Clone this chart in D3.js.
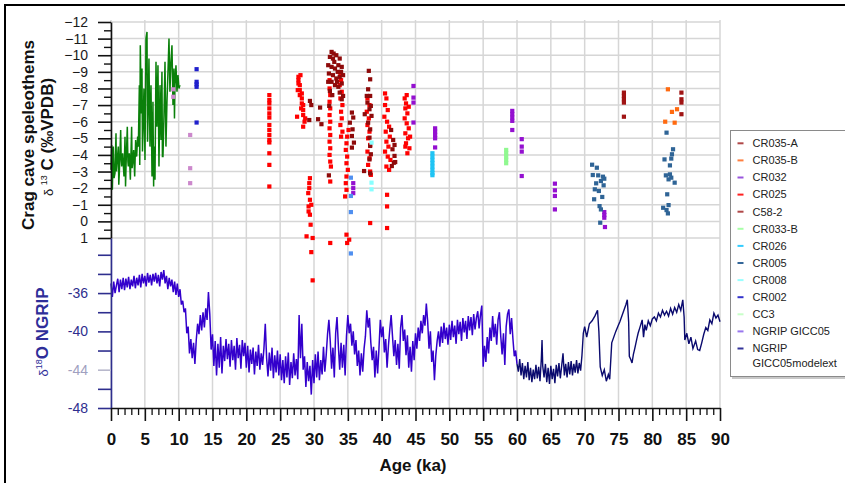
<!DOCTYPE html>
<html>
<head>
<meta charset="utf-8">
<script src="https://cdn.jsdelivr.net/npm/d3@7"></script>
<style>
body { margin: 0; background: #fff; }
svg { display: block; font-family: "Liberation Sans", Arial, sans-serif; }
</style>
</head>
<body>
<div class="chart"></div>
<script>
// tick values
var ageTicks = [0, 5, 10, 15, 20, 25, 30, 35, 40, 45, 50, 55, 60, 65, 70, 75, 80, 85, 90];
var carbonTicks = [-12, -11, -10, -9, -8, -7, -6, -5, -4, -3, -2, -1, 0, 1];
var ngripTicks = [-48, -46, -44, -42, -40, -38, -36, -34, -32];
var ngripLabels = [-36, -40, -44, -48];

var legendNames = ["CR035-A", "CR035-B", "CR032", "CR025", "C58-2", "CR033-B", "CR026", "CR005",
    "CR008", "CR002", "CC3", "NGRIP GICC05", "NGRIP", "GICC05modelext"];
var legendColors = ["#b04848", "#ff7f3f", "#9955dd", "#ff2020", "#b04848", "#a8ffa8", "#33ccff", "#336699",
    "#99ffff", "#3333cc", "#c8ffc8", "#9977ee", "#333399", null];

// d13C speleothem records [age ka, d13C]
var cc3 = [[0.0,-3.1],[0.1,-4.6],[0.2,-1.9],[0.34,-4.5],[0.45,-2.6],[0.59,-2.9],[0.74,-5.3],[0.8,-3.0],[0.89,-3.5],
    [1.08,-4.5],[1.15,-2.2],[1.23,-2.9],[1.43,-5.5],[1.5,-3.8],[1.58,-3.3],[1.72,-4.1],[1.92,-2.7],[2.07,-5.1],
    [2.15,-2.1],[2.22,-3.3],[2.41,-5.7],[2.5,-3.6],[2.56,-3.3],[2.71,-4.1],[2.86,-2.5],[3.05,-5.7],[3.12,-3.2],
    [3.2,-3.5],[3.35,-4.3],[3.5,-2.7],[3.64,-4.9],[3.79,-3.9],[3.94,-5.1],[4.04,-4.5],[4.19,-8.2],[4.25,-3.4],
    [4.33,-10.6],[4.48,-6.5],[4.58,-9.2],[4.65,-4.2],[4.73,-5.5],[4.87,-8.0],[5.02,-3.7],[5.17,-11.0],[5.32,-11.4],
    [5.4,-4.8],[5.47,-6.1],[5.61,-9.8],[5.76,-4.5],[5.91,-8.2],[6.06,-2.7],[6.2,-7.2],[6.3,-2.1],[6.35,-4.5],
    [6.5,-2.5],[6.65,-9.6],[6.79,-5.7],[6.94,-9.4],[7.09,-3.3],[7.24,-8.2],[7.39,-4.9],[7.53,-9.0],[7.6,-3.9],
    [7.68,-3.9],[7.83,-6.4],[7.98,-9.6],[8.12,-4.5],[8.27,-7.2],[8.42,-9.0],[8.57,-11.0],[8.71,-7.8],[8.86,-9.6],
    [9.01,-10.6],[9.16,-7.0],[9.31,-9.2],[9.38,-6.2],[9.45,-8.2],[9.6,-9.4],[9.75,-7.8],[9.9,-8.8],[10.04,-8.0],
    [10.19,-8.2]];
var ccPink = [[9.2,-7.95],[9.2,-7.5],[11.7,-5.2],[11.7,-3.2],[11.7,-2.3]];
var cr002 = [[12.65,-9.16],[12.65,-8.4],[12.65,-8.25],[12.65,-8.1],[12.65,-5.95]];
var cr025 = [[23.4,-7.6],[23.4,-7.3],[23.4,-7.1],[23.4,-6.8],[23.4,-6.5],[23.4,-6.25],[23.4,-5.8],[23.4,-5.5],
    [23.4,-5.2],[23.4,-4.9],[23.4,-4.75],[23.4,-4.1],[23.4,-3.4],[23.4,-2.1],
    [27.7,-8.7],[27.7,-8.5],[27.7,-8.3],[27.9,-8.2],[27.9,-7.9],[27.9,-7.6],[28.2,-7.7],[28.2,-7.4],[28.2,-7.1],
    [28.4,-7.0],[28.4,-6.7],[28.4,-6.4],[28.4,-5.7],[27.5,-6.3],[28.7,-6.2],[28.0,-8.8],[27.6,-7.9],[28.1,-6.8],
    [28.6,-6.0],
    [29.4,-2.6],[29.3,-2.3],[29.15,-1.7],[29.4,-1.3],[29.6,-1.0],[29.2,-0.6],[29.4,-0.4],[29.5,0.2],[28.9,0.9],
    [29.8,1.0],[29.6,1.85],[29.8,3.55],[29.3,-2.0],[29.2,-0.9],
    [32.3,-8.5],[32.3,-8.0],[32.4,-7.6],[32.3,-7.2],[32.4,-6.8],[32.3,-6.4],[32.4,-6.0],[32.3,-5.6],[32.4,-5.2],
    [32.3,-4.8],[32.4,-4.4],[32.3,-4.0],[32.4,-3.6],[32.5,-3.3],[32.4,-2.4],[32.4,1.3],
    [33.9,-8.9],[34.0,-8.5],[33.8,-8.2],[34.1,-7.8],[33.9,-7.4],[34.2,-7.0],[34.0,-6.6],[34.1,-6.2],[33.9,-5.8],
    [34.2,-5.4],[34.0,-5.1],
    [35.1,-5.5],[34.9,-5.1],[34.8,-4.7],[34.7,-4.3],[34.9,-3.9],[34.8,-3.5],[35.0,-3.1],[34.8,-2.7],[34.7,-2.3],
    [34.8,-1.9],[34.6,-1.5],[34.8,0.8],[35.2,1.1],[34.9,1.3],
    [37.9,-7.4],[38.2,-7.0],[37.8,-6.6],[38.1,-6.2],[37.9,-5.8],[38.2,-5.4],[38.0,-5.0],[38.3,-4.6],[37.9,-4.2],
    [38.2,-3.8],[38.0,-3.4],[38.3,-3.0],[38.4,-2.8],[38.3,0.1],
    [40.5,-7.7],[40.7,-7.4],[40.5,-7.0],[40.9,-6.7],[40.4,-6.3],[40.8,-6.0],[41.1,-5.7],[40.6,-5.4],[41.2,-5.1],
    [40.7,-4.8],[41.0,-4.5],[40.5,-4.2],[40.9,-3.9],[41.3,-3.7],[40.7,-3.3],[41.1,-3.1],[40.8,-1.6],[40.8,-0.9],
    [40.8,0.4],
    [43.4,-7.4],[43.6,-7.1],[43.5,-6.8],[43.8,-6.5],[43.4,-6.2],[43.7,-5.9],[44.0,-5.6],[43.5,-5.3],[43.9,-5.0],
    [43.6,-4.7],[44.1,-4.4],[43.8,-4.1],[43.5,-4.5],[44.2,-5.1],[43.7,-7.6],[44.0,-6.9]];
var cr035a = [[29.4,-7.25],[30.9,-6.85],[29.3,-6.1],[30.6,-6.15],[31.1,-5.85],[29.6,-7.0],
    [32.6,-10.2],[32.35,-9.9],[32.8,-9.8],[33.3,-10.0],[33.8,-9.8],[32.1,-9.4],[32.6,-9.3],[33.1,-9.2],[33.6,-9.4],
    [34.1,-9.3],[32.2,-8.9],[32.8,-8.8],[33.3,-8.6],[33.8,-8.7],[34.3,-8.8],[32.1,-8.4],[32.6,-8.4],[33.1,-8.2],
    [33.6,-8.1],[34.1,-8.3],[32.35,-7.85],[33.8,-7.75],[34.3,-7.55],[34.1,-7.35],[32.25,-6.95],[33.0,-9.6],
    [33.5,-9.0],[32.9,-10.1],[33.4,-8.4],[32.7,-7.6],[34.0,-9.0],[32.2,-2.77],
    [35.6,-6.55],[35.8,-6.25],[35.3,-5.94],[35.7,-5.54],[35.6,-5.14],[35.9,-4.74],[35.6,-4.44],
    [38.1,-9.06],[38.3,-8.55],[38.0,-7.95],[37.8,-7.55],[38.3,-7.55],[37.9,-7.15],[38.4,-6.95],[38.2,-6.75],
    [37.5,-6.45],[38.5,-6.35],[38.0,-5.94],[38.3,-5.54],[38.2,-5.04],[38.3,-4.54],[38.4,-4.04],[38.2,-3.73],
    [37.4,-3.03],[38.3,-2.89],
    [41.4,-5.5],[41.7,-4.9],[41.6,-4.34],[41.9,-3.94],[41.8,-3.53],[42.0,-3.57],[41.5,-3.33],[41.9,-4.6]];
var c582 = [[75.8,-7.75],[75.8,-7.55],[75.8,-7.35],[75.8,-7.15],[75.8,-6.3],[84.3,-7.75],[84.3,-7.35],[84.3,-7.15],[84.3,-6.45]];
var cr035b = [[82.3,-7.95],[83.65,-6.75],[82.9,-6.59],[81.9,-6.0],[83.3,-5.94]];
var cr032 = [[35.8,-2.3],[35.8,-2.0],[35.8,-1.7],[44.7,-8.15],[44.7,-7.45],[44.7,-7.15],[44.7,-5.95],
    [47.9,-5.6],[47.9,-5.4],[47.9,-5.2],[47.9,-5.0],[47.9,-4.45],[59.3,-6.65],[59.3,-6.45],[59.3,-6.25],
    [59.3,-6.05],[59.3,-5.5],[60.7,-4.95],[60.7,-4.5],[60.7,-4.2],[60.7,-2.73],[65.6,-2.27],[65.6,-1.87],
    [65.6,-1.53],[65.6,-0.72],[72.9,-0.56],[72.9,-0.38],[72.9,-0.22],[73.0,0.34]];
var cr026 = [[47.5,-4.1],[47.5,-3.9],[47.5,-3.7],[47.5,-3.5],[47.5,-3.3],[47.5,-3.1],[47.5,-2.9],[47.5,-2.78]];
var cr008 = [[38.5,-4.74],[38.5,-2.33],[38.5,-1.93]];
var cr033b = [[58.4,-4.3],[58.4,-4.1],[58.4,-3.9],[58.4,-3.7],[58.4,-3.5]];
var cr005a = [[35.45,-2.63],[35.45,-1.53],[35.45,-0.56],[35.45,1.93]];
var cr005 = [[71.1,-3.41],[71.8,-3.23],[71.2,-2.79],[72.0,-2.77],[72.7,-2.69],[72.9,-2.57],[71.7,-2.29],
    [72.4,-2.43],[72.8,-2.17],[71.5,-1.93],[72.1,-1.83],[72.6,-1.47],[71.4,-1.33],[72.2,-0.92],[72.4,-0.72],
    [72.3,0.08],
    [82.1,-5.34],[83.06,-4.34],[82.9,-4.04],[82.8,-3.78],[81.8,-3.73],[82.6,-3.37],[82.0,-2.77],[82.6,-2.83],
    [82.8,-2.63],[82.4,-2.53],[83.3,-2.33],[82.2,-1.63],[82.4,-0.98],[81.6,-0.82],[82.1,-0.68],[82.3,-0.48]];

// NGRIP d18O [age ka, d18O]
var ngripGicc05 = [
    [0.0,-35.0],[0.2,-36.4],[0.4,-34.8],[0.6,-36.0],[0.8,-35.2],[1.0,-34.5],[1.2,-35.9],[1.4,-34.6],[1.6,-35.6],[1.8,-34.4],
    [2.0,-35.7],[2.2,-34.5],[2.4,-35.4],[2.6,-34.3],[2.8,-35.6],[3.0,-34.6],[3.2,-35.3],[3.4,-34.2],[3.6,-35.5],[3.8,-34.4],
    [4.0,-35.2],[4.2,-34.1],[4.4,-35.4],[4.6,-34.0],[4.8,-35.0],[5.0,-34.2],[5.2,-35.3],[5.4,-33.9],[5.6,-34.9],[5.8,-34.1],
    [6.0,-35.2],[6.2,-34.0],[6.4,-34.8],[6.6,-33.9],[6.8,-35.0],[7.0,-34.1],[7.2,-35.3],[7.4,-33.8],[7.6,-34.6],[7.8,-33.6],
    [8.0,-35.0],[8.2,-34.2],[8.4,-35.6],[8.6,-34.4],[8.8,-35.3],[9.0,-34.6],[9.2,-35.9],[9.4,-34.8],[9.6,-36.2],[9.8,-35.0],
    [10.0,-36.4],[10.2,-35.6],[10.4,-37.2],[10.6,-36.8],[10.8,-38.0],[11.0,-37.6],[11.2,-40.2],[11.4,-39.5],[11.6,-42.3],[11.8,-40.8],
    [12.0,-42.8],[12.2,-41.2],[12.4,-43.4],[12.6,-40.9],[12.8,-39.2],[13.0,-40.3],[13.2,-38.3],[13.4,-39.9],[13.6,-38.0],[13.8,-39.6],
    [14.0,-37.6],[14.2,-38.8],[14.4,-35.9],[14.6,-38.2],[14.8,-41.9],[15.0,-40.3],[15.2,-43.6],[15.4,-41.0],[15.6,-44.6],[15.8,-41.3],
    [16.0,-43.8],[16.2,-40.6],[16.4,-44.4],[16.6,-41.5],[16.8,-43.1],[17.0,-40.8],[17.2,-42.9],[17.4,-41.3],[17.6,-43.7],[17.8,-40.9],
    [18.0,-43.0],[18.2,-41.5],[18.4,-44.0],[18.6,-40.7],[18.8,-42.8],[19.0,-41.4],[19.2,-43.9],[19.4,-40.9],[19.6,-42.6],[19.8,-41.2],
    [20.0,-43.8],[20.2,-41.5],[20.4,-44.3],[20.6,-41.9],[20.8,-43.4],[21.0,-41.7],[21.2,-44.5],[21.4,-42.1],[21.6,-43.6],[21.8,-41.4],
    [22.0,-44.0],[22.2,-42.3],[22.4,-43.5],[22.6,-41.8],[22.8,-39.2],[23.0,-42.8],[23.2,-44.7],[23.4,-42.2],[23.6,-44.1],[23.8,-41.7],
    [24.0,-44.9],[24.2,-42.5],[24.4,-44.3],[24.6,-42.0],[24.8,-44.6],[25.0,-42.4],[25.2,-45.1],[25.4,-43.0],[25.6,-45.4],[25.8,-42.6],
    [26.0,-44.8],[26.2,-42.2],[26.4,-45.6],[26.6,-43.2],[26.8,-44.9],[27.0,-42.3],[27.2,-44.6],[27.4,-42.9],[27.6,-45.0],[27.8,-38.3],
    [28.0,-42.8],[28.2,-39.2],[28.4,-44.0],[28.6,-42.6],[28.8,-45.8],[29.0,-43.2],[29.2,-45.2],[29.4,-43.6],[29.6,-46.6],[29.8,-43.0],
    [30.0,-45.4],[30.2,-42.4],[30.4,-44.8],[30.6,-42.1],[30.8,-45.1],[31.0,-43.0],[31.2,-44.5],[31.4,-41.6],[31.6,-44.2],[31.8,-42.5],
    [32.0,-40.3],[32.2,-38.8],[32.4,-41.0],[32.6,-43.9],[32.8,-41.7],[33.0,-44.8],[33.2,-40.2],[33.4,-38.5],[33.6,-41.5],[33.8,-44.0],
    [34.0,-41.2],[34.2,-43.8],[34.4,-41.4],[34.6,-44.6],[34.8,-40.5],[35.0,-38.3],[35.2,-40.2],[35.4,-39.2],[35.6,-41.5],[35.8,-40.0],
    [36.0,-42.4],[36.2,-40.9],[36.4,-43.6],[36.6,-42.0],[36.8,-44.6],[37.0,-42.3],[37.2,-44.2],[37.4,-41.8],[37.6,-40.5],[37.8,-37.8],
    [38.0,-39.6],[38.2,-38.6],[38.4,-41.2],[38.6,-43.0],[38.8,-41.6],[39.0,-44.8],[39.2,-42.0],[39.4,-44.4],[39.6,-41.8],[39.8,-38.8],
    [40.0,-40.6],[40.2,-39.5],[40.4,-42.2],[40.6,-40.8],[40.8,-43.8],[41.0,-41.5],[41.2,-39.8],[41.4,-38.3],[41.6,-40.5],[41.8,-42.6],
    [42.0,-40.9],[42.2,-43.5],[42.4,-41.3],[42.6,-43.9],[42.8,-39.6],[43.0,-38.3],[43.2,-41.0],[43.4,-39.8],[43.6,-42.5],[43.8,-40.4],
    [44.0,-43.8],[44.2,-41.6],[44.4,-44.2],[44.6,-41.0],[44.8,-43.0],[45.0,-40.2],[45.2,-41.8],[45.4,-39.6],[45.6,-41.0],[45.8,-38.9],
    [46.0,-40.2],[46.2,-38.3],[46.4,-39.4],[46.6,-37.1],[46.8,-39.0],[47.0,-41.8],[47.2,-40.0],[47.4,-43.2],[47.6,-42.0],[47.8,-45.1],
    [48.0,-42.5],[48.2,-41.0],[48.4,-40.0],[48.6,-41.6],[48.8,-39.5],[49.0,-41.2],[49.2,-39.1],[49.4,-40.8],[49.6,-39.6],[49.8,-41.4],
    [50.0,-39.3],[50.2,-40.9],[50.4,-38.9],[50.6,-40.6],[50.8,-39.4],[51.0,-41.3],[51.2,-38.8],[51.4,-40.3],[51.6,-39.0],[51.8,-41.0],
    [52.0,-38.6],[52.2,-40.1],[52.4,-38.9],[52.6,-40.8],[52.8,-38.4],[53.0,-39.9],[53.2,-38.5],[53.4,-40.4],[53.6,-38.2],[53.8,-39.8],
    [54.0,-38.6],[54.2,-37.9],[54.4,-39.7],[54.6,-38.3],[54.8,-37.3],[55.0,-43.7],[55.2,-41.5],[55.4,-43.2],[55.6,-40.6],[55.8,-42.3],
    [56.0,-39.6],[56.2,-41.0],[56.4,-38.4],[56.6,-40.6],[56.8,-39.2],[57.0,-41.4],[57.2,-38.8],[57.4,-38.0],[57.6,-40.5],[57.8,-42.4],
    [58.0,-40.2],[58.2,-43.5],[58.4,-39.5],[58.6,-38.2],[58.8,-37.7],[59.0,-40.3],[59.2,-38.6],[59.4,-40.8],[59.6,-42.6],[59.8,-42.0],
    [60.0,-43.4]];
var ngripModelext = [[60.0,-43.4],[60.2,-44.2],[60.4,-42.9],[60.6,-44.6],[60.8,-43.3],[61.0,-45.0],[61.2,-43.6],
    [61.4,-44.8],[61.6,-43.2],[61.8,-45.1],[62.0,-43.8],[62.2,-45.3],[62.4,-44.0],[62.6,-45.0],[62.8,-43.5],
    [63.0,-44.9],[63.2,-43.7],[63.4,-45.2],[63.6,-42.8],[63.7,-40.9],[63.8,-43.6],[64.0,-44.8],[64.2,-43.4],
    [64.4,-45.3],[64.6,-43.8],[64.8,-45.5],[65.0,-43.6],[65.2,-45.0],[65.4,-43.9],[65.6,-45.4],[65.8,-43.5],
    [66.0,-44.7],[66.2,-43.3],[66.4,-44.9],[66.6,-43.6],[66.8,-42.3],[67.0,-44.6],[67.2,-43.4],[67.4,-44.8],
    [67.6,-43.2],[67.8,-44.5],[68.0,-43.1],[68.2,-44.6],[68.4,-43.4],[68.6,-44.3],[68.8,-43.0],[69.0,-44.4],
    [69.2,-43.3],[69.4,-44.1],[69.6,-42.5],[69.8,-40.2],[70.0,-39.5],[70.3,-40.6],[70.7,-39.2],[71.1,-38.9],
    [71.5,-38.4],[71.9,-37.8],[72.1,-40.0],[72.3,-43.7],[72.6,-44.6],[72.9,-44.0],[73.2,-45.2],[73.5,-44.5],
    [73.7,-45.0],[74.0,-41.2],[74.3,-40.6],[74.6,-40.0],[74.9,-39.5],[75.2,-39.0],[75.5,-38.4],[75.8,-37.8],
    [76.1,-37.2],[76.3,-36.7],[76.5,-39.0],[76.6,-42.6],[76.8,-42.9],[77.0,-43.3],[77.2,-42.4],[77.4,-41.8],
    [77.7,-40.8],[77.9,-40.2],[78.2,-39.5],[78.5,-38.8],[78.7,-40.6],[78.9,-39.3],[79.1,-39.9],[79.4,-38.9],
    [79.7,-39.4],[80.0,-38.7],[80.3,-38.5],[80.6,-38.9],[80.9,-38.1],[81.2,-38.5],[81.5,-37.8],[81.8,-38.3],
    [82.1,-37.9],[82.4,-38.4],[82.7,-37.6],[83.0,-38.2],[83.3,-37.5],[83.6,-38.0],[83.9,-37.2],[84.2,-37.8],
    [84.5,-36.7],[84.7,-38.5],[84.8,-40.9],[85.1,-40.2],[85.4,-41.3],[85.7,-40.6],[86.0,-41.8],[86.4,-41.0],
    [86.7,-41.9],[87.0,-42.0],[87.3,-41.2],[87.6,-40.3],[87.9,-39.6],[88.2,-39.9],[88.5,-38.8],[88.8,-39.2],
    [89.1,-38.1],[89.4,-38.6],[89.7,-38.3],[90.0,-39.0]];

var svgWidth = 845;
var svgHeight = 483;

var svg = d3.select(".chart")
    .append("svg")
    .attr("width", svgWidth)
    .attr("height", svgHeight);

var x = d3.scaleLinear().domain([0, 90]).range([111, 720]);
var yTop = d3.scaleLinear().domain([-12, 1]).range([22, 238]);
var yLow = d3.scaleLinear().domain([-48, -30.25]).range([408, 238]);

// frame (left and top edges only)
svg.append("path")
    .attr("d", "M5,483V5H845")
    .attr("fill", "none")
    .attr("stroke", "#000")
    .attr("stroke-width", 2);

// gridlines
svg.append("g").selectAll("line")
    .data(carbonTicks)
    .join("line")
    .attr("x1", x(0)).attr("x2", x(90))
    .attr("y1", d => yTop(d)).attr("y2", d => yTop(d))
    .attr("stroke", "#d6d6d6")
    .attr("stroke-width", 1.5);

svg.append("g").selectAll("line")
    .data(ageTicks)
    .join("line")
    .attr("x1", d => x(d)).attr("x2", d => x(d))
    .attr("y1", 20).attr("y2", yLow(-48))
    .attr("stroke", "#d6d6d6")
    .attr("stroke-width", 1.5);

// NGRIP lines
var ngripLine = d3.line().x(d => x(d[0])).y(d => yLow(d[1]));
svg.append("path").datum(ngripGicc05)
    .attr("d", ngripLine).attr("fill", "none")
    .attr("stroke", "#3300cc").attr("stroke-width", 1.5);
svg.append("path").datum(ngripModelext)
    .attr("d", ngripLine).attr("fill", "none")
    .attr("stroke", "#0a0a6e").attr("stroke-width", 1.4);

// CC3 line
var carbonLine = d3.line().x(d => x(d[0])).y(d => yTop(d[1]));
svg.append("path").datum(cc3)
    .attr("d", carbonLine).attr("fill", "none")
    .attr("stroke", "#0a800a").attr("stroke-width", 1.5);

// speleothem points
var pointSeries = [
    [ccPink, "#cc88cc"], [cr002, "#2020cc"], [cr025, "#ff0000"], [cr035a, "#8e0a0a"],
    [c582, "#a01414"], [cr035b, "#ff6a10"], [cr032, "#9410d0"], [cr026, "#20c4f4"],
    [cr008, "#88ffff"], [cr033b, "#90f890"], [cr005a, "#4f8ff0"], [cr005, "#2f6496"]
];
var sz = 4.2;
pointSeries.forEach(function(s) {
    svg.append("g").selectAll("rect")
        .data(s[0])
        .join("rect")
        .attr("x", d => x(d[0]) - sz / 2)
        .attr("y", d => yTop(d[1]) - sz / 2)
        .attr("width", sz).attr("height", sz)
        .attr("fill", s[1]);
});

// axes
var topAxis = svg.append("g")
    .attr("transform", `translate(${x(0)},0)`)
    .call(d3.axisLeft(yTop).tickValues(carbonTicks).tickSize(13).tickPadding(10).tickSizeOuter(0));
topAxis.selectAll("path, line").attr("stroke", "#111").attr("stroke-width", 1.6);
topAxis.selectAll("text").attr("font-size", 14).attr("fill", "#1a1a1a")
    .attr("font-family", "Liberation Sans, Arial, sans-serif");

svg.append("g")
    .attr("transform", `translate(${x(0)},0)`)
    .call(d3.axisLeft(yTop).tickValues(carbonTicks.slice(0, -1).map(d => d + 0.5))
        .tickSize(7).tickFormat("").tickSizeOuter(0))
    .call(g => g.select(".domain").remove())
    .selectAll("line").attr("stroke", "#111").attr("stroke-width", 1.4);

var lowAxis = svg.append("g")
    .attr("transform", `translate(${x(0)},0)`)
    .call(d3.axisLeft(yLow).tickValues(ngripTicks).tickSize(13).tickPadding(10).tickSizeOuter(0)
        .tickFormat(d => ngripLabels.indexOf(d) >= 0 ? d : ""));
lowAxis.selectAll("path, line").attr("stroke", "#2e2e8e").attr("stroke-width", 1.6);
lowAxis.selectAll("text").attr("font-size", 14).attr("fill", "#2e2e8e")
    .attr("font-family", "Liberation Sans, Arial, sans-serif");
lowAxis.selectAll(".tick").filter(d => d === -44)
    .call(g => g.select("line").attr("stroke", "#b8b8cc"))
    .call(g => g.select("text").attr("fill", "#a0a0c0"));

var bottomAxis = svg.append("g")
    .attr("transform", `translate(0,${yLow(-48)})`)
    .call(d3.axisBottom(x).tickValues(ageTicks).tickSize(13).tickPadding(12).tickSizeOuter(0));
bottomAxis.selectAll("path, line").attr("stroke", "#111").attr("stroke-width", 1.6);
bottomAxis.selectAll("text").attr("font-size", 17).attr("font-weight", "bold").attr("fill", "#111")
    .attr("font-family", "Liberation Sans, Arial, sans-serif");

svg.append("g")
    .attr("transform", `translate(0,${yLow(-48)})`)
    .call(d3.axisBottom(x).tickValues(d3.range(0, 91).filter(d => d % 5 !== 0))
        .tickSize(7).tickFormat("").tickSizeOuter(0))
    .call(g => g.select(".domain").remove())
    .selectAll("line").attr("stroke", "#111").attr("stroke-width", 1.3);

// axis titles
svg.append("text")
    .attr("transform", "translate(33.5,135) rotate(-90)")
    .attr("text-anchor", "middle")
    .attr("font-size", 17).attr("font-weight", "bold").attr("fill", "#111")
    .text("Crag cave speleothems");

var t2 = svg.append("text")
    .attr("transform", "translate(53,137) rotate(-90)")
    .attr("text-anchor", "middle")
    .attr("fill", "#111");
t2.append("tspan").attr("font-size", 13).text("δ ");
t2.append("tspan").attr("font-size", 9).attr("dy", -6).text("13");
t2.append("tspan").attr("font-size", 17).attr("font-weight", "bold").attr("dy", 6).text(" C (‰VPDB)");

var t3 = svg.append("text")
    .attr("transform", "translate(48,332) rotate(-90)")
    .attr("text-anchor", "middle")
    .attr("fill", "#2e2e99");
t3.append("tspan").attr("font-size", 13).text("δ");
t3.append("tspan").attr("font-size", 9).attr("dy", -6).text("18");
t3.append("tspan").attr("font-size", 17).attr("font-weight", "bold").attr("dy", 6).text("O NGRIP");

svg.append("text")
    .attr("x", 413).attr("y", 471)
    .attr("text-anchor", "middle")
    .attr("font-size", 17).attr("font-weight", "bold").attr("fill", "#111")
    .text("Age (ka)");

// legend
svg.append("rect")
    .attr("x", 732).attr("y", 132).attr("width", 140).attr("height", 247)
    .attr("fill", "#c8c8c8");
svg.append("rect")
    .attr("x", 730.5).attr("y", 130.5).attr("width", 140).attr("height", 246)
    .attr("fill", "#fff").attr("stroke", "#8a8a8a");

var legend = svg.append("g").selectAll("g")
    .data(legendNames)
    .join("g")
    .attr("transform", (d, i) => `translate(0,${143.3 + i * 17.1 - (i === 13 ? 2 : 0)})`);

legend.filter((d, i) => legendColors[i])
    .append("line")
    .attr("x1", 737.5).attr("x2", 743.5)
    .attr("stroke", (d, i) => legendColors[legendNames.indexOf(d)])
    .attr("stroke-width", 2);

legend.append("text")
    .attr("x", 752.5).attr("dy", "0.35em")
    .attr("font-size", 11).attr("fill", "#222")
    .text(d => d);
</script>
</body>
</html>
